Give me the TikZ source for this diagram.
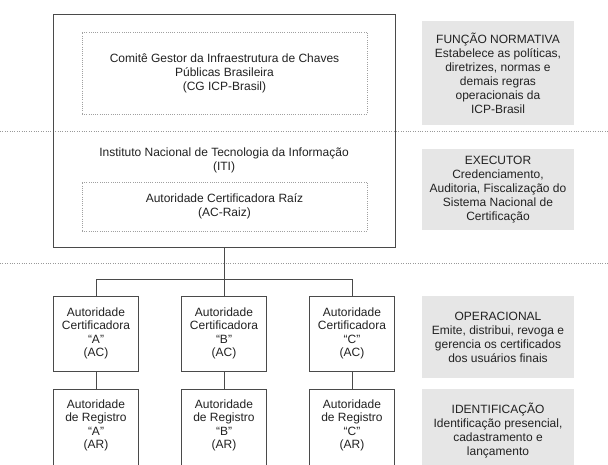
\documentclass[tikz,border=0pt]{standalone}
\usepackage{fontspec}
\setmainfont{Liberation Sans}
\definecolor{edge}{HTML}{4A4A4A}
\definecolor{dotc}{HTML}{A0A0A0}
\definecolor{sepc}{HTML}{999999}
\definecolor{grayfill}{HTML}{E6E6E6}
\definecolor{txt}{HTML}{222222}
\begin{document}
\begin{tikzpicture}[x=1pt,y=-1pt,
  every node/.style={font=\fontsize{12}{14}\selectfont, text=txt, align=center, inner sep=0pt},
  outerbox/.style={draw=edge, line width=0.9pt},
  dotbox/.style={draw=dotc, line width=0.8pt, dash pattern=on 0.8pt off 1.4pt},
  orgbox/.style={draw=edge, line width=0.9pt, minimum width=85pt, minimum height=75pt, font=\fontsize{12}{13.5}\selectfont},
  graybox/.style={fill=grayfill, minimum width=152pt},
  link/.style={draw=edge, line width=0.9pt},
  sepline/.style={draw=sepc, line width=0.8pt, dash pattern=on 0.8pt off 1.6pt}]
\useasboundingbox (0,0) rectangle (608,464);
\clip (0,0) rectangle (608,464);
\fill[white] (0,0) rectangle (608,464);

% separators
\draw[sepline] (0,131.5) -- (608,131.5);
\draw[sepline] (0,263.5) -- (608,263.5);

% top structure
\node[outerbox, minimum width=342pt, minimum height=233.5pt] (outer) at (224,130.75) {};
\node[dotbox, minimum width=285pt, minimum height=82pt] (cg) at (224.5,73)
  {Comitê Gestor da Infraestrutura de Chaves\\Públicas Brasileira\\(CG ICP-Brasil)};
\node (iti) at (224,160.5) {Instituto Nacional de Tecnologia da Informação\\(ITI)};
\node[dotbox, minimum width=285pt, minimum height=49pt] (acraiz) at (224.5,206.5)
  {Autoridade Certificadora Raíz\\(AC-Raiz)};

% AC boxes
\node[orgbox] (aca) at (96,333.5) {Autoridade\\Certificadora\\“A”\\(AC)};
\node[orgbox] (acb) at (224,333.5) {Autoridade\\Certificadora\\“B”\\(AC)};
\node[orgbox] (acc) at (352,333.5) {Autoridade\\Certificadora\\“C”\\(AC)};

% AR boxes (extend past bottom edge)
\node[orgbox, minimum height=90pt, anchor=north] (ara) at (96,389) {};
\node[orgbox, minimum height=90pt, anchor=north] (arb) at (224,389) {};
\node[orgbox, minimum height=90pt, anchor=north] (arc) at (352,389) {};
\node[font=\fontsize{12}{13.5}\selectfont] (arat) at (96,425.5) {Autoridade\\de Registro\\“A”\\(AR)};
\node[font=\fontsize{12}{13.5}\selectfont] (arbt) at (224,425.5) {Autoridade\\de Registro\\“B”\\(AR)};
\node[font=\fontsize{12}{13.5}\selectfont] (arct) at (352,425.5) {Autoridade\\de Registro\\“C”\\(AR)};

% connectors
\coordinate (branch) at (224,279);
\draw[link] (outer.south) -- (branch);
\draw[link] (branch) -| (aca.north);
\draw[link] (branch) -| (acc.north);
\draw[link] (branch) -- (acb.north);
\draw[link] (aca.south) -- (ara.north);
\draw[link] (acb.south) -- (arb.north);
\draw[link] (acc.south) -- (arc.north);

% right column
\node[graybox, minimum height=104pt] (fn) at (498,73)
  {FUNÇÃO NORMATIVA\\Estabelece as políticas,\\diretrizes, normas e\\demais regras\\operacionais da\\ICP-Brasil};
\node[graybox, minimum height=81pt] (ex) at (498,189.5)
  {EXECUTOR\\Credenciamento,\\Auditoria, Fiscalização do\\Sistema Nacional de\\Certificação};
\node[graybox, minimum height=82pt] (op) at (498,337)
  {OPERACIONAL\\Emite, distribui, revoga e\\gerencia os certificados\\dos usuários finais};
\node[graybox, minimum height=90pt, anchor=north] (id) at (498,389) {};
\node (idt) at (498,430) {IDENTIFICAÇÃO\\Identificação presencial,\\cadastramento e\\lançamento};
\end{tikzpicture}
\end{document}
